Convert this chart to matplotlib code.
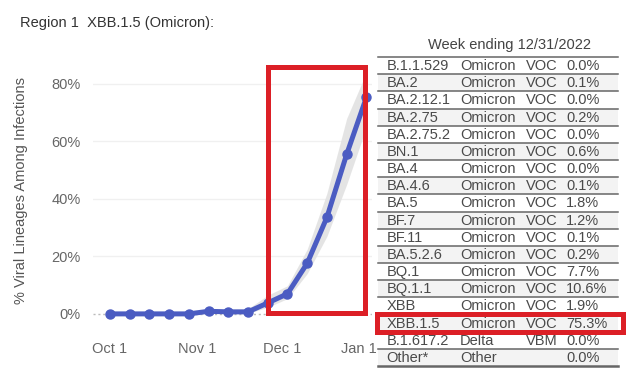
import matplotlib
matplotlib.use("Agg")
import matplotlib.pyplot as plt
import matplotlib.transforms as mtransforms
from matplotlib.patches import Rectangle
from matplotlib.lines import Line2D
import datetime as dt

plt.rcParams['font.family'] = ['Liberation Sans', 'DejaVu Sans']

# ---- data ----
week_ending = ["2022-10-01", "2022-10-08", "2022-10-15", "2022-10-22", "2022-10-29",
               "2022-11-05", "2022-11-12", "2022-11-19", "2022-11-26", "2022-12-03",
               "2022-12-10", "2022-12-17", "2022-12-24", "2022-12-31"]
share = [0.0, 0.0, 0.0, 0.0, 0.0, 0.9, 0.7, 0.7, 3.8, 7.0, 17.6, 33.6, 55.5, 75.3]
lower = [0.0, 0.0, 0.0, 0.0, 0.0, 0.3, 0.2, 0.2, 2.3, 5.3, 14.0, 27.0, 45.0, 65.0]
upper = [0.4, 0.4, 0.4, 0.4, 0.4, 1.8, 1.6, 1.8, 6.5, 9.8, 22.5, 42.0, 68.0, 84.0]
x_ticks = ["2022-10-01", "2022-11-01", "2022-12-01", "2023-01-01"]
x_tick_labels = ["Oct 1", "Nov 1", "Dec 1", "Jan 1"]
y_ticks = [0, 20, 40, 60, 80]

table_header = "Week ending 12/31/2022"
lineages = ["B.1.1.529", "BA.2", "BA.2.12.1", "BA.2.75", "BA.2.75.2", "BN.1", "BA.4",
            "BA.4.6", "BA.5", "BF.7", "BF.11", "BA.5.2.6", "BQ.1", "BQ.1.1", "XBB",
            "XBB.1.5", "B.1.617.2", "Other*"]
who_labels = ["Omicron"] * 16 + ["Delta", "Other"]
types = ["VOC"] * 16 + ["VBM", ""]
pcts = ["0.0%", "0.1%", "0.0%", "0.2%", "0.0%", "0.6%", "0.0%", "0.1%", "1.8%", "1.2%",
        "0.1%", "0.2%", "7.7%", "10.6%", "1.9%", "75.3%", "0.0%", "0.0%"]
highlight = "XBB.1.5"

W, H = 631, 383
fig = plt.figure(figsize=(W / 100, H / 100), dpi=100)

def fx(px):
    return px / W

def fy(py):
    return 1 - py / H

# ---- chart ----
ax = fig.add_axes([fx(93), fy(334), fx(372) - fx(93), fy(61) - fy(334)])
dates = [dt.datetime.strptime(d, "%Y-%m-%d") for d in week_ending]
ax.fill_between(dates, lower, upper, color="#e2e2e2", alpha=0.9, lw=0, zorder=2)
ax.plot(dates, share, color="#4b5cc2", lw=3.6, marker="o", ms=6.5,
        solid_capstyle="round", zorder=3)
ax.set_xlim(dt.datetime(2022, 9, 25), dt.datetime(2023, 1, 2))
ax.set_ylim(-7, 88)
for v in y_ticks:
    if v == 0:
        ax.axhline(v, color="#bbbbbb", lw=1.0, ls=(0, (1.5, 2)), zorder=1)
    else:
        ax.axhline(v, color="#f0f0f0", lw=1.0, zorder=1)
ax.set_yticks(y_ticks)
ax.set_yticklabels([f"{v}%" for v in y_ticks])
ax.set_xticks([dt.datetime.strptime(d, "%Y-%m-%d") for d in x_ticks])
ax.set_xticklabels(x_tick_labels)
ax.tick_params(axis="y", length=0, pad=9, labelsize=10.5, labelcolor="#666666")
ax.tick_params(axis="x", length=0, pad=6, labelsize=10.5, labelcolor="#666666")
# last date label is pulled inside the plot area, as in the source chart
last = ax.get_xticklabels()[-1]
last.set_transform(last.get_transform() +
                   mtransforms.ScaledTranslation(-10 / 100, 0, fig.dpi_scale_trans))
for s in ax.spines.values():
    s.set_visible(False)
ax.set_ylabel("% Viral Lineages Among Infections", fontsize=10.5, color="#555555")
ax.yaxis.set_label_coords(-0.232, 0.525)
ax.patch.set_alpha(0)

fig.text(fx(20), fy(23), "Region 1  XBB.1.5 (Omicron):", fontsize=10.5,
         color="#333333", ha="left", va="center")

# ---- table ----
row_h = 17.17
top = 57.0
x0, x1 = 378, 618
fig.text(fx(509), fy(45), table_header, fontsize=10.5, color="#444444",
         ha="center", va="center")
fig.add_artist(Line2D([fx(x0), fx(x1)], [fy(top), fy(top)], color="#666666", lw=1.1))
for i, (lin, who, typ, p) in enumerate(zip(lineages, who_labels, types, pcts)):
    rt = top + i * row_h
    if i % 2 == 1:
        fig.add_artist(Rectangle((fx(x0), fy(rt + row_h)), fx(x1) - fx(x0),
                                 fy(rt) - fy(rt + row_h), transform=fig.transFigure,
                                 facecolor="#f3f3f3", edgecolor="none", zorder=0))
    yc = fy(rt + row_h / 2 + 0.5)
    kw = dict(fontsize=10.5, color="#4a4a4a", ha="left", va="center")
    fig.text(fx(386.5), yc, lin, **kw)
    fig.text(fx(460), yc, who, **kw)
    fig.text(fx(526), yc, typ, **kw)
    fig.text(fx(566), yc, p, **kw)
    yb = fy(rt + row_h)
    lw = 1.8 if i == len(lineages) - 1 else 1.1
    fig.add_artist(Line2D([fx(x0), fx(x1)], [yb, yb], color="#666666", lw=lw))

# ---- red highlight boxes ----
red = "#dc1f26"
fig.add_artist(Rectangle((fx(267.5), fy(312.5)), fx(364.5) - fx(267.5),
                         fy(67.5) - fy(312.5), transform=fig.transFigure,
                         fill=False, edgecolor=red, lw=3.6, zorder=10))
hi = lineages.index(highlight)
hy_top = top + hi * row_h - 1
hy_bot = top + (hi + 1) * row_h + 0.5
fig.add_artist(Rectangle((fx(376.5), fy(hy_bot)), fx(622.5) - fx(376.5),
                         fy(hy_top) - fy(hy_bot), transform=fig.transFigure,
                         fill=False, edgecolor=red, lw=3.6, zorder=10))

fig.savefig("out.png", dpi=100)
